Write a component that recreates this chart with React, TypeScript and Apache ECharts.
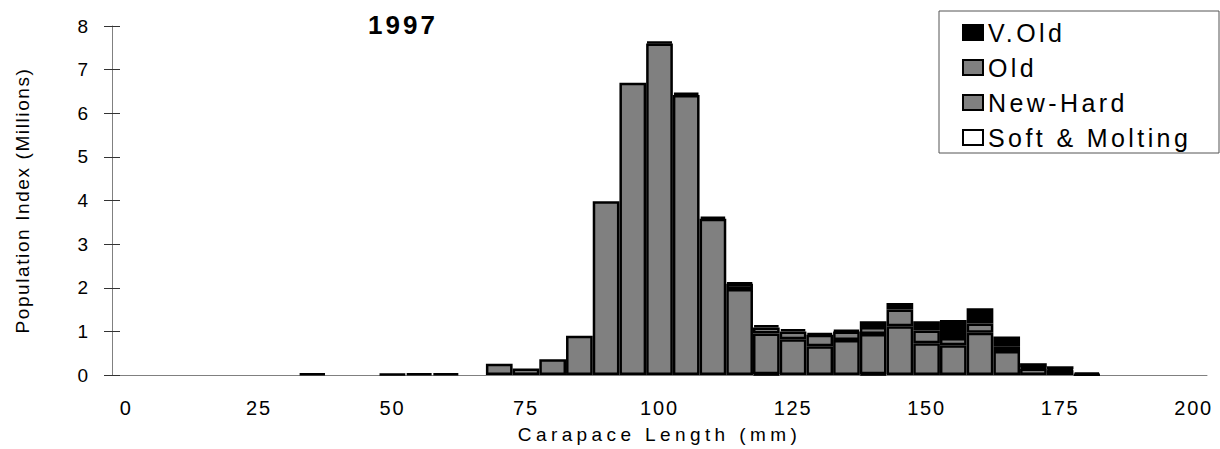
import React, { useEffect, useRef } from "react";
import * as echarts from "echarts";

// Carapace length classes (mm), 5 mm bins
const lengthBins: string[] = [
  "0", "5", "10", "15", "20", "25", "30", "35", "40", "45",
  "50", "55", "60", "65", "70", "75", "80", "85", "90", "95",
  "100", "105", "110", "115", "120", "125", "130", "135", "140", "145",
  "150", "155", "160", "165", "170", "175", "180", "185", "190", "195", "200",
];

// Population index (millions) per shell condition, one value per bin (null = none)
const softMolting: (number | null)[] = [
  null, null, null, null, null, null, null, null, null, null,
  null, null, null, null, null, null, null, null, null, null,
  null, null, null, null, 0.02, null, null, null, 0.02, null,
  null, null, null, null, null, null, null, null, null, null, null,
];
const newHard: (number | null)[] = [
  null, null, null, null, null, null, null, 0.03, null, null,
  0.02, 0.04, 0.04, null, 0.26, 0.15, 0.36, 0.9, 3.98, 6.7,
  7.6, 6.42, 3.58, 1.97, 0.93, 0.82, 0.66, 0.8, 0.92, 1.12,
  0.73, 0.68, 0.97, 0.55, 0.15, 0.11, 0.01, null, null, null, null,
];
const oldShell: (number | null)[] = [
  null, null, null, null, null, null, null, null, null, null,
  null, null, null, null, null, null, null, null, null, null,
  null, null, null, 0.12, 0.14, 0.18, 0.26, 0.2, 0.16, 0.38,
  0.29, 0.17, 0.21, 0.1, 0.02, 0.02, null, null, null, null, null,
];
const veryOld: (number | null)[] = [
  null, null, null, null, null, null, null, null, null, null,
  null, null, null, null, null, null, null, null, null, null,
  0.04, 0.05, 0.05, 0.03, 0.05, 0.05, 0.04, 0.03, 0.13, 0.15,
  0.21, 0.41, 0.35, 0.23, 0.1, 0.07, 0.05, null, null, null, null,
];

const yTicks = { min: 0, max: 8, interval: 1 };

const FONT = '"Liberation Sans", Arial, sans-serif';

// Extra tracking for the wide, spaced-out lettering
const letterSpacing: Record<string, number> = {
  "Carapace Length (mm)": 4.4,
  "Population Index (Millions)": 1.6,
  "1997": 3,
  "V.Old": 3.4,
  "Old": 3.4,
  "New-Hard": 3.4,
  "Soft & Molting": 3.4,
  "25": 1.8,
  "50": 1.8,
  "75": 1.8,
  "100": 1.8,
  "125": 1.8,
  "150": 1.8,
  "175": 1.8,
  "200": 1.8,
};

function applySpacing(root: HTMLElement) {
  root.querySelectorAll("text").forEach((t) => {
    const s = letterSpacing[(t.textContent || "").trim()];
    if (s !== undefined) t.setAttribute("letter-spacing", String(s));
  });
}

const barStyle = (fill: string) => ({
  color: fill,
  borderColor: "#000",
  borderWidth: 2.5,
});

export default function App() {
  const ref = useRef<HTMLDivElement>(null);

  useEffect(() => {
    if (!ref.current) return;
    const chart = echarts.init(ref.current, null, { renderer: "svg" });

    const series = [
      { name: "Soft & Molting", data: softMolting, fill: "#ffffff" },
      { name: "New-Hard", data: newHard, fill: "#808080" },
      { name: "Old", data: oldShell, fill: "#808080" },
      { name: "V.Old", data: veryOld, fill: "#000000" },
    ].map((s) => ({
      name: s.name,
      type: "bar",
      stack: "total",
      data: s.data,
      barCategoryGap: "0%",
      itemStyle: barStyle(s.fill),
      emphasis: { disabled: true },
    }));

    chart.setOption({
      animation: false,
      backgroundColor: "#ffffff",
      textStyle: { fontFamily: FONT },
      grid: { left: 112, right: 13, top: 26, bottom: 72 },
      legend: {
        orient: "vertical",
        left: 962,
        top: 20,
        padding: 0,
        icon: "rect",
        itemWidth: 20,
        itemHeight: 15,
        itemGap: 10,
        selectedMode: false,
        itemStyle: { borderColor: "#000", borderWidth: 2 },
        data: ["V.Old", "Old", "New-Hard", "Soft & Molting"],
        textStyle: { fontSize: 25, lineHeight: 25, color: "#000", fontFamily: FONT },
      },
      graphic: [
        {
          type: "rect",
          shape: { x: 939, y: 11, width: 280, height: 142 },
          style: { fill: "none", stroke: "#555", lineWidth: 1 },
          z: -1,
        },
        {
          type: "text",
          x: 403,
          y: 25,
          style: {
            text: "1997",
            align: "center",
            verticalAlign: "middle",
            fontSize: 26,
            fontWeight: "bold",
            fontFamily: FONT,
            fill: "#000",
          },
        },
      ],
      xAxis: {
        type: "category",
        data: lengthBins,
        boundaryGap: true,
        name: "Carapace Length (mm)",
        nameLocation: "middle",
        nameGap: 50,
        nameTextStyle: { fontSize: 19, color: "#000", fontFamily: FONT },
        axisLine: { lineStyle: { color: "#808080", width: 1 } },
        axisTick: { interval: 0, alignWithLabel: false, length: 6, lineStyle: { color: "#333" } },
        axisLabel: { interval: 4, margin: 23, fontSize: 20, color: "#000", fontFamily: FONT },
        splitLine: { show: false },
      },
      yAxis: [
        {
          type: "value",
          ...yTicks,
          name: "Population Index (Millions)",
          nameLocation: "middle",
          nameGap: 80,
          nameTextStyle: { fontSize: 19, color: "#000", fontFamily: FONT },
          axisLine: { show: true, lineStyle: { color: "#808080", width: 1 } },
          axisTick: { show: true, length: 8, lineStyle: { color: "#333" } },
          axisLabel: { margin: 24, fontSize: 19, color: "#000", fontFamily: FONT },
          splitLine: { show: false },
        },
        {
          type: "value",
          ...yTicks,
          position: "left",
          axisLine: { show: false },
          axisTick: { show: true, inside: true, length: 8, lineStyle: { color: "#333" } },
          axisLabel: { show: false },
          splitLine: { show: false },
        },
      ],
      series,
    });

    const dom = ref.current;
    applySpacing(dom);
    chart.on("finished", () => applySpacing(dom));

    return () => {
      chart.dispose();
    };
  }, []);

  return (
    <div
      ref={ref}
      style={{ position: "fixed", left: 0, top: 0, width: 1220, height: 449, background: "#fff" }}
    />
  );
}
